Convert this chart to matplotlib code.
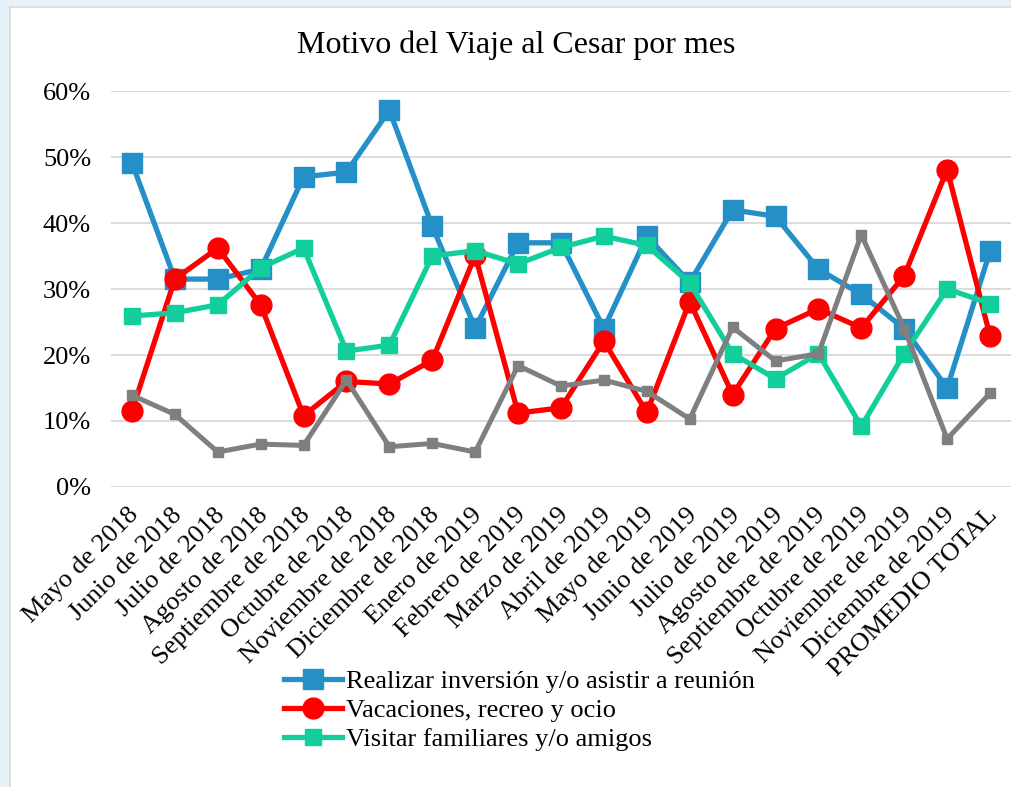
import matplotlib
matplotlib.use("Agg")
import matplotlib.pyplot as plt
import matplotlib.transforms as mtransforms
from matplotlib.patches import Rectangle
from matplotlib.ticker import PercentFormatter

plt.rcParams["font.family"] = ["Liberation Serif", "DejaVu Serif"]

months = [
    "Mayo de 2018", "Junio de 2018", "Julio de 2018", "Agosto de 2018",
    "Septiembre de 2018", "Octubre de 2018", "Noviembre de 2018",
    "Diciembre de 2018", "Enero de 2019", "Febrero de 2019", "Marzo de 2019",
    "Abril de 2019", "Mayo de 2019", "Junio de 2019", "Julio de 2019",
    "Agosto de 2019", "Septiembre de 2019", "Octubre de 2019",
    "Noviembre de 2019", "Diciembre de 2019", "PROMEDIO TOTAL",
]
inversion = [49.1, 31.5, 31.5, 33.0, 47.0, 47.7, 57.1, 39.5, 24.1, 37.0, 37.0,
             24.0, 38.0, 31.0, 42.0, 41.0, 33.0, 29.2, 24.0, 15.0, 35.7]
vacaciones = [11.5, 31.5, 36.2, 27.6, 10.8, 16.0, 15.6, 19.2, 35.1, 11.2, 12.0,
              22.1, 11.3, 28.1, 14.0, 24.0, 27.0, 24.1, 32.0, 48.1, 22.9]
familiares = [25.9, 26.4, 27.6, 33.2, 36.2, 20.6, 21.5, 35.0, 35.8, 33.8, 36.3,
              38.0, 36.6, 30.9, 20.2, 16.4, 20.2, 9.2, 20.2, 30.0, 27.8]
otros = [13.9, 11.0, 5.3, 6.5, 6.3, 16.2, 6.1, 6.6, 5.3, 18.4, 15.3,
         16.2, 14.5, 10.3, 24.2, 19.1, 20.2, 38.2, 24.0, 7.3, 14.2]

W, H = 1011, 787
fig = plt.figure(figsize=(W / 100, H / 100), dpi=100)
fig.patch.set_facecolor("#e6f1f8")
fig.patches.append(Rectangle((10 / W, -0.1), 1.1, 1.1 - 7 / H, transform=fig.transFigure,
                             facecolor="white", edgecolor="#d9d9d9", linewidth=1.2,
                             zorder=-5))

ax = fig.add_axes([110.5 / W, 1 - 487 / H, 901 / W, 396 / H])
ax.set_zorder(2)
ax.set_facecolor("none")
x = range(len(months))
ax.plot(x, inversion, color="#2590c8", lw=3.8, marker="s", ms=15,
        label="Realizar inversión y/o asistir a reunión")
ax.plot(x, vacaciones, color="#ff0000", lw=3.8, marker="o", ms=15,
        label="Vacaciones, recreo y ocio")
ax.plot(x, familiares, color="#12ce9a", lw=3.8, marker="s", ms=12,
        label="Visitar familiares y/o amigos")
ax.plot(x, otros, color="#7f7f7f", lw=3.6, marker="s", ms=6.5)

ax.set_xlim(-0.5, len(months) - 0.5)
ax.set_ylim(0, 60)
ax.set_yticks(range(0, 61, 10))
ax.yaxis.set_major_formatter(PercentFormatter(decimals=0))
ax.grid(True, axis="y", color="#d9d9d9", lw=1.3)
ax.set_axisbelow(True)
for side in ax.spines.values():
    side.set_visible(False)
ax.tick_params(axis="both", length=0, labelsize=19)
ax.tick_params(axis="y", pad=14)
ax.set_xticks(list(x))
ax.set_xticklabels(months, rotation=45, ha="right", va="top", rotation_mode="anchor")
ax.tick_params(axis="x", pad=12)
shift = mtransforms.ScaledTranslation(-4 / 100, 0, fig.dpi_scale_trans)
for lbl in ax.get_xticklabels():
    lbl.set_transform(lbl.get_transform() + shift)

fig.text(516 / W, 1 - 45 / H, "Motivo del Viaje al Cesar por mes", ha="center",
         va="center", fontsize=23)

fig.legend(loc="upper left", bbox_to_anchor=(284 / W, 1 - 670 / H), frameon=False,
           fontsize=19, handlelength=2.2, handletextpad=0.15, labelspacing=0.2,
           borderaxespad=0, borderpad=0)

fig.savefig("out.png", dpi=100, facecolor=fig.get_facecolor())
